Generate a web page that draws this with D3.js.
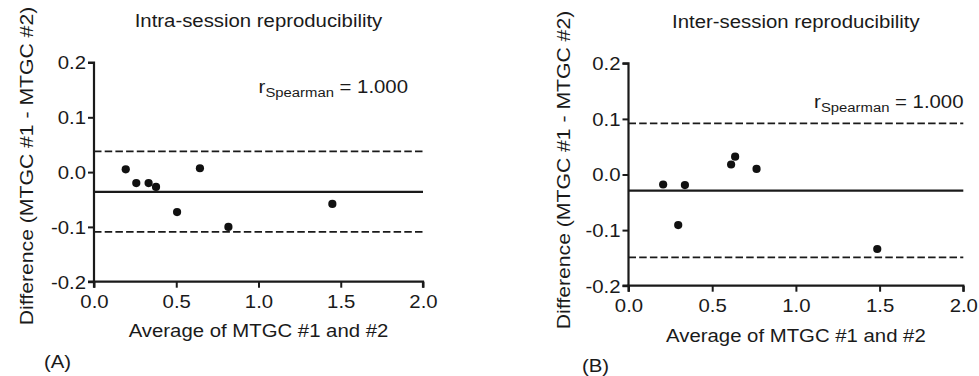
<!DOCTYPE html>
<html>
<head>
<meta charset="utf-8">
<script src="https://cdn.jsdelivr.net/npm/d3@7"></script>
<style>
  html, body { margin: 0; padding: 0; background: #fff; }
  svg { display: block; }
  text { font-family: "Liberation Sans", Arial, sans-serif; fill: #1a1a1a; }
</style>
</head>
<body>
<svg id="chart" width="979" height="376"></svg>
<script>
// ---------------- data ----------------
const xTicks = [0, 0.5, 1.0, 1.5, 2.0];
const xTickLabels = ["0.0", "0.5", "1.0", "1.5", "2.0"];
const yTicks = [-0.2, -0.1, 0.0, 0.1, 0.2];
const yTickLabels = ["-0.2", "-0.1", "0.0", "0.1", "0.2"];

const intraAvg  = [0.193, 0.257, 0.332, 0.377, 0.505, 0.644, 0.817, 1.449];
const intraDiff = [0.005, -0.020, -0.020, -0.027, -0.073, 0.007, -0.100, -0.058];
const intraBias = -0.036;
const intraLimits = [-0.109, 0.038];

const interAvg  = [0.207, 0.297, 0.337, 0.613, 0.637, 0.765, 1.486];
const interDiff = [-0.018, -0.091, -0.019, 0.018, 0.032, 0.010, -0.134];
const interBias = -0.029;
const interLimits = [-0.149, 0.092];

const panelTitles = ["Intra-session reproducibility", "Inter-session reproducibility"];
const panelTags = ["(A)", "(B)"];
const xLabel = "Average of MTGC #1 and #2";
const yLabel = "Difference (MTGC #1 - MTGC #2)";
const rLabel = ["r", "Spearman", " = 1.000"];

// ---------------- layout ----------------
const panels = [
  { avg: intraAvg, diff: intraDiff, bias: intraBias, limits: intraLimits,
    title: panelTitles[0], tag: panelTags[0],
    x0: 94, x1: 423, y0: 62.5, y1: 281.7,
    titleY: 27.3, rX: 408, rY: 92.7, xLabY: 337, tagX: 44, tagY: 368, yLabX: 33.3, yLabY: 166 },
  { avg: interAvg, diff: interDiff, bias: interBias, limits: interLimits,
    title: panelTitles[1], tag: panelTags[1],
    x0: 628.5, x1: 963.3, y0: 63.3, y1: 285.7,
    titleY: 28, rX: 963.5, rY: 107.7, xLabY: 341.7, tagX: 582, tagY: 371.7, yLabX: 570, yLabY: 170 }
];

const svg = d3.select("#chart");
const FS = 18.5, SX = 1.1, INK = "#1a1a1a";

function label(g, txt, x, y, anchor, rot, sx) {
  return g.append("text")
    .attr("transform", `translate(${x},${y}) rotate(${rot || 0}) scale(${sx || SX},1)`)
    .attr("text-anchor", anchor).attr("font-size", FS).text(txt);
}

panels.forEach(p => {
  const x = d3.scaleLinear().domain([0, 2]).range([p.x0, p.x1]);
  const y = d3.scaleLinear().domain([-0.2, 0.2]).range([p.y1, p.y0]);
  const g = svg.append("g");

  // axes
  const xAxis = d3.axisBottom(x).tickValues(xTicks).tickSize(6).tickPadding(4)
    .tickFormat((d, i) => xTickLabels[i]);
  const yAxis = d3.axisLeft(y).tickValues(yTicks).tickSize(6).tickPadding(2)
    .tickFormat((d, i) => yTickLabels[i]);

  const gx = g.append("g").attr("transform", `translate(0,${p.y1})`).call(xAxis);
  const gy = g.append("g").attr("transform", `translate(${p.x0},0)`).call(yAxis);
  [gx, gy].forEach(a => {
    a.select(".domain").attr("stroke", INK).attr("stroke-width", 2.2);
    a.selectAll(".tick line").attr("stroke", INK).attr("stroke-width", 2);
    a.selectAll(".tick text")
      .attr("font-family", "Liberation Sans, Arial, sans-serif")
      .attr("font-size", FS).attr("fill", INK);
  });
  gx.select(".domain").attr("d", `M${p.x0},6V0H${p.x1}V6`);
  gy.select(".domain").attr("d", `M-6,${p.y0}H0V${p.y1}H-6`);
  // horizontally widened glyphs like the reference font
  gx.selectAll(".tick text").attr("dy", null).attr("y", null)
    .attr("transform", `translate(0,${26.5}) scale(${SX},1)`);
  gy.selectAll(".tick text").attr("x", null).attr("dy", "0.35em")
    .attr("transform", `translate(-8,0) scale(${SX},1)`);

  // limits of agreement (dashed) and bias (solid)
  g.selectAll("line.loa").data(p.limits).join("line")
    .attr("class", "loa")
    .attr("x1", p.x0).attr("x2", p.x1)
    .attr("y1", d => y(d)).attr("y2", d => y(d))
    .attr("stroke", INK).attr("stroke-width", 1.7)
    .attr("stroke-dasharray", "7.5,3.2");
  g.append("line")
    .attr("x1", p.x0).attr("x2", p.x1)
    .attr("y1", y(p.bias)).attr("y2", y(p.bias))
    .attr("stroke", INK).attr("stroke-width", 2.1);

  // points
  g.selectAll("circle").data(p.avg).join("circle")
    .attr("cx", d => x(d)).attr("cy", (d, i) => y(p.diff[i]))
    .attr("r", 4.1).attr("fill", "#111");

  // titles and labels
  const cx = (p.x0 + p.x1) / 2;
  label(g, p.title, cx, p.titleY, "middle");
  label(g, xLabel, cx, p.xLabY, "middle");
  label(g, p.tag, p.tagX, p.tagY, "start");
  label(g, yLabel, p.yLabX, p.yLabY, "middle", -90, 1.145);

  const r = label(g, null, p.rX, p.rY, "end");
  r.append("tspan").text(rLabel[0]);
  r.append("tspan").attr("font-size", 13.5).attr("dy", 4).text(rLabel[1]);
  r.append("tspan").attr("dy", -4).text(rLabel[2]);
});
</script>
</body>
</html>
